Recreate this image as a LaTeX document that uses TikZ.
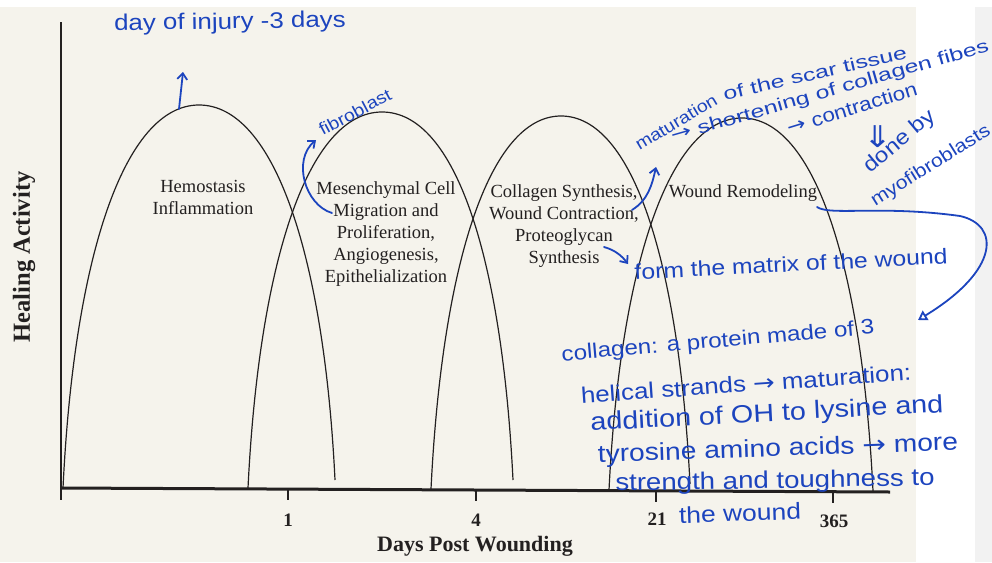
\documentclass[tikz,border=0pt]{standalone}
\usepackage{fontspec}
\setmainfont{Liberation Serif}
\newfontfamily\handfont{Liberation Sans}
\newfontfamily\arrowfont{DejaVu Sans}
\usetikzlibrary{arrows.meta}
\definecolor{paper}{RGB}{245,243,236}
\definecolor{ink}{RGB}{35,32,32}
\definecolor{handblue}{RGB}{28,68,190}
\newcommand\hw[1]{\handfont\fontsize{#1}{#1}\selectfont}
\newcommand\ra{{\arrowfont\symbol{"2192}}}
\newcommand\bk{\fontsize{18.5}{22}\selectfont}

\begin{document}
\begin{tikzpicture}[x=1pt,y=-1pt,
  curve/.style={draw=ink, line width=1.2pt},
  printed/.style={text=ink, font=\bk, align=center, inner sep=0pt},
  ticklabel/.style={text=ink, font=\bfseries\fontsize{19}{22}\selectfont, inner sep=0pt},
  axislabel/.style={text=ink, inner sep=0pt},
  hand/.style={text=handblue, inner sep=0pt, xscale=#1},
  hand/.default=1.15,
  handline/.style={draw=handblue, line width=1.8pt, line cap=round, line join=round},
  barb/.style={-{Straight Barb[length=6pt,width=10pt]}}]
\useasboundingbox (0,0) rectangle (992,562);
\fill [white] (0,0) rectangle (992,562);
\fill [paper] (0,7) rectangle (916,562);
\fill [black!5] (975,7) rectangle (992,562);
\coordinate (origin) at (61,488);
\coordinate (ytop) at (61,22);
\coordinate (ybot) at (61,500);
\coordinate (xend) at (890,492);
\draw [ink, line width=2pt] (ytop) -- (ybot);
\draw [ink, line width=3pt] (origin) -- (xend);
\draw [ink, line width=1.6pt] (288,489) -- (288,500);
\draw [ink, line width=1.6pt] (476,490) -- (476,501);
\draw [ink, line width=1.6pt] (656,491) -- (656,502);
\draw [ink, line width=1.6pt] (833,492) -- (833,503);
\node [ticklabel] (d1) at (288,520) {1};
\node [ticklabel] (d4) at (476,520) {4};
\node [ticklabel] (d21) at (657,519) {21};
\node [ticklabel] (d365) at (834,521) {365};
\node [axislabel, font=\bfseries\fontsize{22}{24}\selectfont] (xlab) at (475,546) {Days Post Wounding};
\node [axislabel, font=\bfseries\fontsize{24.5}{26}\selectfont, rotate=90] (ylab) at (24,257) {Healing Activity};
\coordinate (a1l) at (63,488);
\coordinate (a1p) at (199,105);
\coordinate (a1r) at (335,480);
\draw [curve] (a1l) .. controls +(11,-230) and +(-75,0) .. (a1p) .. controls +(75,0) and +(-11,-225) .. (a1r);
\coordinate (a2l) at (248,488);
\coordinate (a2p) at (382,112);
\coordinate (a2r) at (513,480);
\draw [curve] (a2l) .. controls +(11,-226) and +(-74,0) .. (a2p) .. controls +(74,0) and +(-11,-221) .. (a2r);
\coordinate (a3l) at (431,489);
\coordinate (a3p) at (561,116);
\coordinate (a3r) at (690,484);
\draw [curve] (a3l) .. controls +(11,-224) and +(-72,0) .. (a3p) .. controls +(72,0) and +(-11,-221) .. (a3r);
\coordinate (a4l) at (609,490);
\coordinate (a4p) at (742,118);
\coordinate (a4r) at (873,491);
\draw [curve] (a4l) .. controls +(11,-223) and +(-73,0) .. (a4p) .. controls +(73,0) and +(-11,-223) .. (a4r);
\node [printed] (hemo) at (203,197) {Hemostasis\\Inflammation};
\node [printed] (mesen) at (386,234) {Mesenchymal Cell\\Migration and\\Proliferation,\\Angiogenesis,\\Epithelialization};
\node [printed] (coll) at (564,226) {Collagen Synthesis,\\Wound Contraction,\\Proteoglycan\\Synthesis};
\node [printed] (remod) at (743,193) {Wound Remodeling};
\node [rotate=1, hand, font=\hw{22.5}] (injury) at (230,23) {day of injury -3 days};
\coordinate (peaktip) at (179,109);
\coordinate (uptip) at (183,72);
\draw [handline, barb] (peaktip) -- (uptip);
\node [rotate=28, hand, font=\hw{17}] (fibro) at (355,112) {fibroblast};
\coordinate (fibstart) at (332,213);
\coordinate (fibtip) at (316,140);
\draw [handline, barb] (fibstart) .. controls (305,205) and (292,160) .. (fibtip);
\coordinate (colstart) at (632,210);
\coordinate (coltip) at (656,167);
\draw [handline, barb] (colstart) .. controls (648,200) and (652,185) .. (coltip);
\node [rotate=31, hand=1.15, font=\hw{17}] (matur) at (676,122) {maturation};
\node [rotate=13, hand=1.38, font=\hw{18}] (scar) at (815,73) {of the scar tissue};
\node [rotate=16, hand=1.38, font=\hw{18}] (short) at (830,92) {\ra\ shortening of collagen fibes};
\node [rotate=17, hand, font=\hw{19.5}] (contr) at (852,108) {\ra\ contraction};
\node [hand, font=\arrowfont\fontsize{30}{30}\selectfont] (dbl) at (878,137) {\symbol{"21D3}};
\node [rotate=40, hand, font=\hw{21}] (done) at (900,142) {done by};
\node [rotate=32, hand, font=\hw{18.5}] (myo) at (931,166) {myofibroblasts};
\coordinate (remstart) at (817,207);
\coordinate (remtip) at (918,320);
\draw [handline, -{Triangle[open,length=9pt,width=11pt]}] (remstart) .. controls (830,216) and (880,205) .. (960,216) .. controls (1000,225) and (1000,270) .. (remtip);
\coordinate (synstart) at (604,247);
\coordinate (syntip) at (628,264);
\draw [handline, barb] (synstart) .. controls (615,250) and (622,256) .. (syntip);
\node [rotate=3, hand, font=\hw{21.5}] (matrix) at (791,264) {form the matrix of the wound};
\node [rotate=5, hand, font=\hw{21}] (note1) at (718,342) {collagen: a protein made of 3};
\node [rotate=4, hand, font=\hw{22.5}] (note2) at (746,384) {helical strands \ra\ maturation:};
\node [rotate=3, hand, font=\hw{25}] (note3) at (767,415) {addition of OH to lysine and};
\node [rotate=2, hand, font=\hw{24.5}] (note4) at (778,450) {tyrosine amino acids \ra\ more};
\node [rotate=1, hand, font=\hw{24}] (note5) at (775,482) {strength and toughness to};
\node [rotate=2, hand, font=\hw{23}] (note6) at (740,513) {the wound};
\end{tikzpicture}
\end{document}
